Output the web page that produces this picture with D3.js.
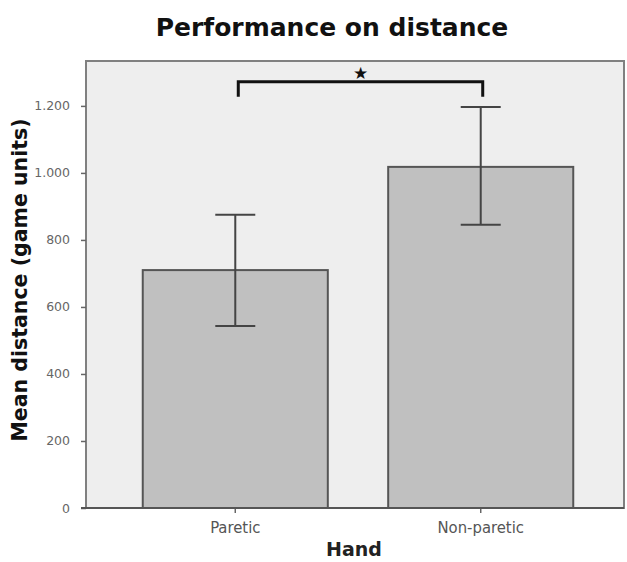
<!DOCTYPE html>
<html><head><meta charset="utf-8">
<script src="https://cdn.jsdelivr.net/npm/d3@7"></script>
<style>body{margin:0;background:#fff}</style>
</head><body>
<svg id="c" width="627" height="562"></svg>
<script>
const categories = ["Paretic", "Non-paretic"];
const means = [710, 1018];
const ciLow = [543, 845];
const ciHigh = [875, 1197];
const yTicks = [0, 200, 400, 600, 800, 1000, 1200];
const bracketTop = 1272, bracketEnd = 1227;

const svg = d3.select("#c");
const L = 86, R = 624, T = 61, B = 508;
const y = d3.scaleLinear().domain([0, 1334]).range([B, T]);
const x = d3.scaleBand().domain(categories).range([L + 3, R + 3]).paddingInner(0.246).paddingOuter(0.219);
const fmt = v => d3.format(",")(v).replace(/,/g, ".");

svg.append("rect").attr("x", L).attr("y", T).attr("width", R - L).attr("height", B - T)
  .attr("fill", "#eeeeee").attr("stroke", "#808080").attr("stroke-width", 2);

const ya = svg.append("g").attr("transform", `translate(${L},0)`)
  .call(d3.axisLeft(y).tickValues(yTicks).tickFormat(fmt).tickSize(5).tickPadding(11));
ya.select(".domain").remove();
ya.selectAll("line").attr("stroke", "#666").attr("stroke-width", 1.5);
ya.selectAll("text").attr("fill", "#666").attr("font-family", "DejaVu Sans").attr("font-size", 12.5);

const xa = svg.append("g").attr("transform", `translate(0,${B})`)
  .call(d3.axisBottom(x).tickSize(5).tickPadding(8));
xa.select(".domain").remove();
xa.selectAll("line").attr("stroke", "#666").attr("stroke-width", 1.5);
xa.selectAll("text").attr("fill", "#555").attr("font-family", "DejaVu Sans Condensed, DejaVu Sans").attr("font-size", 16.5);

svg.selectAll(".bar").data(categories).enter().append("rect")
  .attr("x", d => x(d)).attr("width", x.bandwidth())
  .attr("y", (d, i) => y(means[i])).attr("height", (d, i) => B - y(means[i]))
  .attr("fill", "#c0c0c0").attr("stroke", "#555").attr("stroke-width", 2);

// baseline
svg.append("line").attr("x1", L - 5).attr("x2", R).attr("y1", B).attr("y2", B)
  .attr("stroke", "#555").attr("stroke-width", 2);

const cx = d => x(d) + x.bandwidth() / 2;
const eb = svg.append("g").attr("stroke", "#444").attr("stroke-width", 2);
categories.forEach((c, i) => {
  eb.append("line").attr("x1", cx(c)).attr("x2", cx(c)).attr("y1", y(ciLow[i])).attr("y2", y(ciHigh[i]));
  [ciLow[i], ciHigh[i]].forEach(v => eb.append("line")
    .attr("x1", cx(c) - 20).attr("x2", cx(c) + 20).attr("y1", y(v)).attr("y2", y(v)));
});

const bx1 = cx(categories[0]) + 3, bx2 = cx(categories[1]) + 2;
svg.append("path")
  .attr("d", `M${bx1},${y(bracketEnd)}V${y(bracketTop)}H${bx2}V${y(bracketEnd)}`)
  .attr("fill", "none").attr("stroke", "#111").attr("stroke-width", 3);
svg.append("text").attr("x", (bx1 + bx2) / 2).attr("y", y(bracketTop) - 3)
  .attr("text-anchor", "middle").attr("font-family", "DejaVu Sans").attr("font-size", 17)
  .attr("font-weight", "bold").attr("fill", "#111").text("★");

svg.append("text").attr("x", 332).attr("y", 36).attr("text-anchor", "middle")
  .attr("font-family", "DejaVu Sans").attr("font-weight", "bold").attr("font-size", 25)
  .attr("fill", "#111").text("Performance on distance");
svg.append("text").attr("x", 354).attr("y", 556).attr("text-anchor", "middle")
  .attr("font-family", "DejaVu Sans").attr("font-weight", "bold").attr("font-size", 19)
  .attr("fill", "#222").text("Hand");
svg.append("text").attr("transform", "translate(27,280) rotate(-90)").attr("text-anchor", "middle")
  .attr("font-family", "DejaVu Sans").attr("font-weight", "bold").attr("font-size", 20.5)
  .attr("fill", "#111").text("Mean distance (game units)");
</script>
</body></html>
